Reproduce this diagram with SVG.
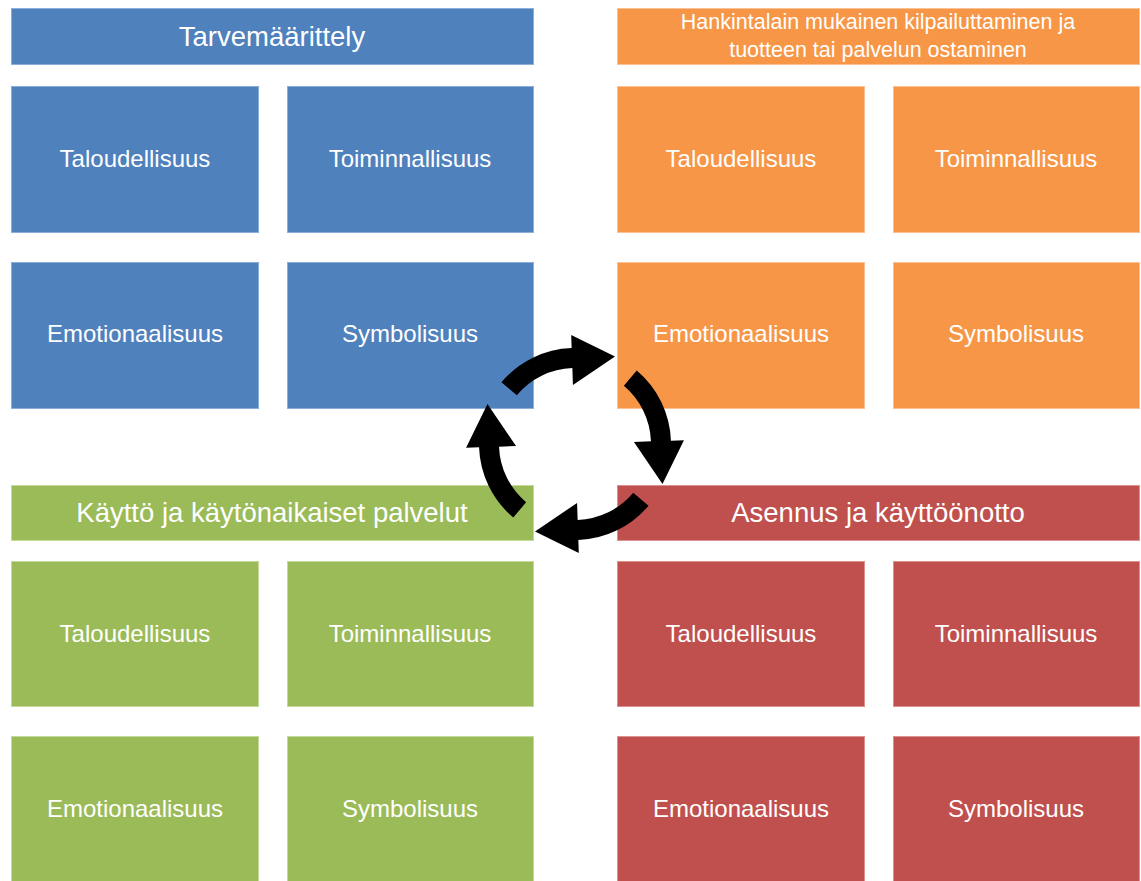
<svg xmlns="http://www.w3.org/2000/svg" width="1141" height="881" viewBox="0 0 1141 881">
  <style>
    .blue { fill: #4F81BD; stroke: #8DAEDA; stroke-width: 1; }
    .orange { fill: #F79646; stroke: #FBC194; stroke-width: 1; }
    .green { fill: #9BBB59; stroke: #C4D99B; stroke-width: 1; }
    .red { fill: #C0504D; stroke: #DD9290; stroke-width: 1; }
    text { fill: #FFFFFF; font-family: "Liberation Sans", Arial, sans-serif; text-anchor: middle; }
    .cell { font-size: 24px; }
    .head { font-size: 27.5px; }
    .head2 { font-size: 21.5px; }
    .arrow { fill: #000000; }
  </style>
  <rect width="1141" height="881" fill="#FFFFFF"/>

  <!-- Quadrant: needs definition (blue) -->
  <g id="tarvemaarittely">
    <rect class="blue" x="11.5" y="8.5" width="522" height="56"/>
    <text class="head" x="272" y="46">Tarvemäärittely</text>
  </g>
  <g id="blue-taloudellisuus">
    <rect class="blue" x="11.5" y="86.5" width="247" height="146"/>
    <text class="cell" x="135" y="167">Taloudellisuus</text>
  </g>
  <g id="blue-toiminnallisuus">
    <rect class="blue" x="287.5" y="86.5" width="246" height="146"/>
    <text class="cell" x="410" y="167">Toiminnallisuus</text>
  </g>
  <g id="blue-emotionaalisuus">
    <rect class="blue" x="11.5" y="262.5" width="247" height="146"/>
    <text class="cell" x="135" y="342">Emotionaalisuus</text>
  </g>
  <g id="blue-symbolisuus">
    <rect class="blue" x="287.5" y="262.5" width="246" height="146"/>
    <text class="cell" x="410" y="342">Symbolisuus</text>
  </g>

  <!-- Quadrant: procurement (orange) -->
  <g id="hankinta">
    <rect class="orange" x="617.5" y="8.5" width="522" height="56"/>
    <text class="head2" x="878" y="29">Hankintalain mukainen kilpailuttaminen ja</text>
    <text class="head2" x="878" y="57">tuotteen tai palvelun ostaminen</text>
  </g>
  <g id="orange-taloudellisuus">
    <rect class="orange" x="617.5" y="86.5" width="247" height="146"/>
    <text class="cell" x="741" y="167">Taloudellisuus</text>
  </g>
  <g id="orange-toiminnallisuus">
    <rect class="orange" x="893.5" y="86.5" width="246" height="146"/>
    <text class="cell" x="1016" y="167">Toiminnallisuus</text>
  </g>
  <g id="orange-emotionaalisuus">
    <rect class="orange" x="617.5" y="262.5" width="247" height="146"/>
    <text class="cell" x="741" y="342">Emotionaalisuus</text>
  </g>
  <g id="orange-symbolisuus">
    <rect class="orange" x="893.5" y="262.5" width="246" height="146"/>
    <text class="cell" x="1016" y="342">Symbolisuus</text>
  </g>

  <!-- Quadrant: use and services (green) -->
  <g id="kaytto">
    <rect class="green" x="11.5" y="485.5" width="522" height="55"/>
    <text class="head" x="272" y="522">Käyttö ja käytönaikaiset palvelut</text>
  </g>
  <g id="green-taloudellisuus">
    <rect class="green" x="11.5" y="561.5" width="247" height="145"/>
    <text class="cell" x="135" y="642">Taloudellisuus</text>
  </g>
  <g id="green-toiminnallisuus">
    <rect class="green" x="287.5" y="561.5" width="246" height="145"/>
    <text class="cell" x="410" y="642">Toiminnallisuus</text>
  </g>
  <g id="green-emotionaalisuus">
    <rect class="green" x="11.5" y="736.5" width="247" height="160"/>
    <text class="cell" x="135" y="817">Emotionaalisuus</text>
  </g>
  <g id="green-symbolisuus">
    <rect class="green" x="287.5" y="736.5" width="246" height="160"/>
    <text class="cell" x="410" y="817">Symbolisuus</text>
  </g>

  <!-- Quadrant: installation (red) -->
  <g id="asennus">
    <rect class="red" x="617.5" y="485.5" width="522" height="55"/>
    <text class="head" x="878" y="522">Asennus ja käyttöönotto</text>
  </g>
  <g id="red-taloudellisuus">
    <rect class="red" x="617.5" y="561.5" width="247" height="145"/>
    <text class="cell" x="741" y="642">Taloudellisuus</text>
  </g>
  <g id="red-toiminnallisuus">
    <rect class="red" x="893.5" y="561.5" width="246" height="145"/>
    <text class="cell" x="1016" y="642">Toiminnallisuus</text>
  </g>
  <g id="red-emotionaalisuus">
    <rect class="red" x="617.5" y="736.5" width="247" height="160"/>
    <text class="cell" x="741" y="817">Emotionaalisuus</text>
  </g>
  <g id="red-symbolisuus">
    <rect class="red" x="893.5" y="736.5" width="246" height="160"/>
    <text class="cell" x="1016" y="817">Symbolisuus</text>
  </g>

  <!-- Cycle of four curved arrows around (575,444) -->
  <defs>
    <path id="arc-arrow" d="M 501.46 382.29 A 96 96 0 0 1 571.65 348.06 L 571.20 335.07 L 615 356.5 L 572.94 385.04 L 572.35 368.05 A 76 76 0 0 0 516.78 395.15 Z"/>
  </defs>
  <g id="connectors" class="arrow">
    <use href="#arc-arrow"/>
    <use href="#arc-arrow" transform="rotate(90 575 444)"/>
    <use href="#arc-arrow" transform="rotate(180 575 444)"/>
    <use href="#arc-arrow" transform="rotate(270 575 444)"/>
  </g>
</svg>
